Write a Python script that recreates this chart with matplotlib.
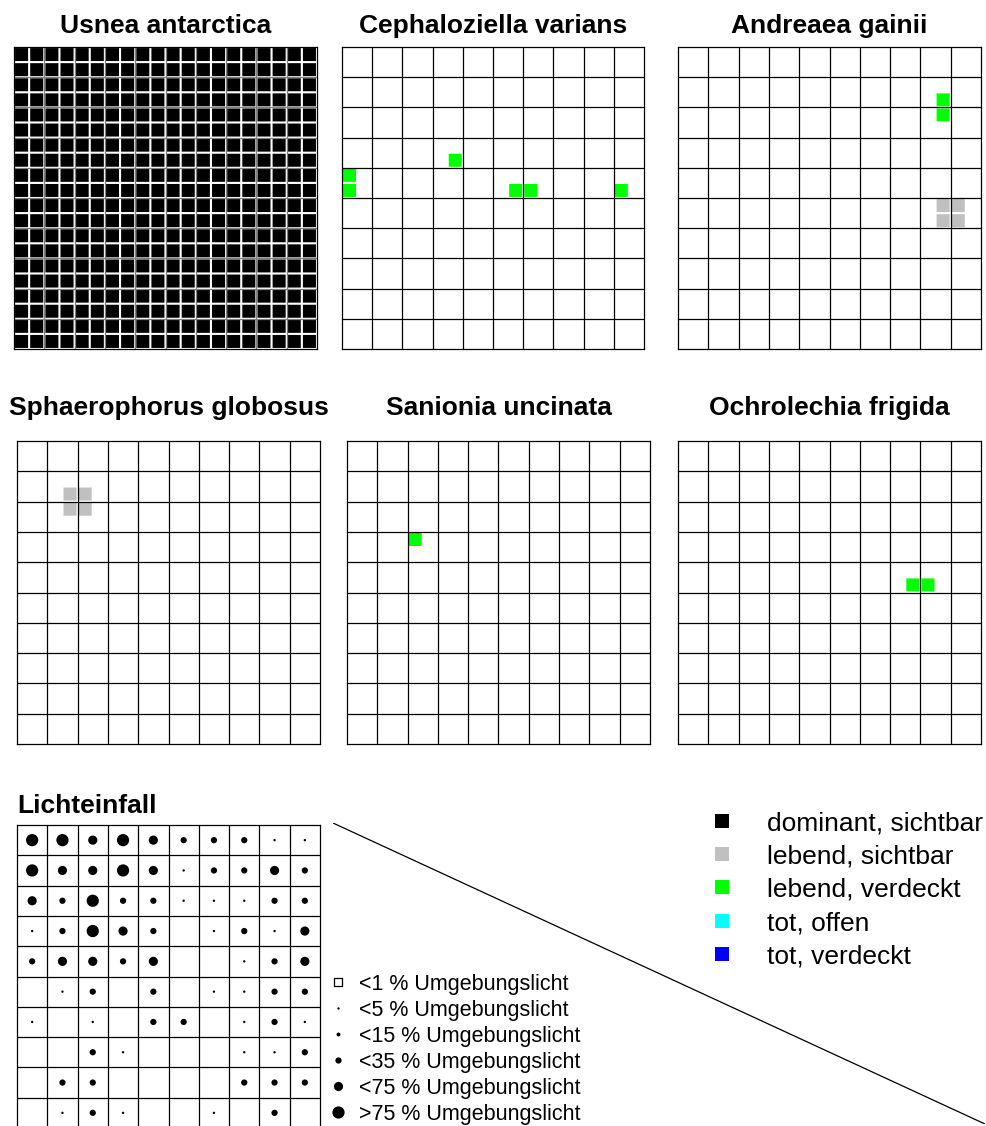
import matplotlib
matplotlib.use('Agg')
import matplotlib.pyplot as plt

plt.rcParams['font.family'] = ['Liberation Sans', 'DejaVu Sans']

W, H = 987, 1126

# status classes
status_names = ['dominant, sichtbar', 'lebend, sichtbar', 'lebend, verdeckt',
                'tot, offen', 'tot, verdeckt']
status_colors = ['#000000', '#c0c0c0', '#00ff00', '#00ffff', '#0000ff']

species = ['Usnea antarctica', 'Cephaloziella varians', 'Andreaea gainii',
           'Sphaerophorus globosus', 'Sanionia uncinata', 'Ochrolechia frigida']

# occupied quarter-cells (col, row, status) on the 20x20 sub grid, row 0 = top
usnea = [(c, r, 0) for r in range(20) for c in range(20)]   # every quarter is black
cephaloziella = [(7, 7, 2), (0, 8, 2), (0, 9, 2), (11, 9, 2), (12, 9, 2), (18, 9, 2)]
andreaea = [(17, 3, 2), (17, 4, 2), (17, 10, 1), (18, 10, 1), (17, 11, 1), (18, 11, 1)]
sphaerophorus = [(3, 3, 1), (4, 3, 1), (3, 4, 1), (4, 4, 1)]
sanionia = [(4, 6, 2)]
ochrolechia = [(15, 9, 2), (16, 9, 2)]
cells = [usnea, cephaloziella, andreaea, sphaerophorus, sanionia, ochrolechia]

# light classes per 10x10 cell, 0 = <1 %, 1 = <5 %, ... 5 = >75 %
light = [
    [5, 5, 4, 5, 4, 3, 3, 3, 1, 1],
    [5, 4, 4, 5, 4, 1, 3, 3, 4, 3],
    [4, 3, 5, 3, 3, 1, 1, 1, 3, 3],
    [1, 3, 5, 4, 3, 0, 1, 3, 1, 4],
    [3, 4, 4, 3, 4, 0, 0, 1, 3, 4],
    [0, 1, 3, 0, 3, 0, 1, 1, 3, 3],
    [1, 0, 1, 0, 3, 3, 0, 1, 3, 1],
    [0, 0, 3, 1, 0, 0, 0, 1, 1, 3],
    [0, 3, 3, 0, 0, 0, 0, 3, 3, 3],
    [0, 1, 3, 1, 0, 0, 1, 0, 3, 0],
]
light_labels = ['<1 % Umgebungslicht', '<5 % Umgebungslicht', '<15 % Umgebungslicht',
                '<35 % Umgebungslicht', '<75 % Umgebungslicht', '>75 % Umgebungslicht']

# dot diameter in points for each light class
dot_pt = [0, 1.7, 2.8, 4.5, 6.6, 8.8]

fig = plt.figure(figsize=(W / 100, H / 100), dpi=100)


def px_axes(left, top, w, h):
    return fig.add_axes([left / W, 1 - (top + h) / H, w / W, h / H])


def setup_grid(ax, n, step, lc='black'):
    ax.set_xlim(0, n)
    ax.set_ylim(n, 0)
    ax.set_xticks([])
    ax.set_yticks([])
    for i in range(1, 10):
        ax.axvline(i * step, color=lc, lw=0.9, zorder=3)
        ax.axhline(i * step, color=lc, lw=0.9, zorder=3)
    for s in ax.spines.values():
        s.set_linewidth(0.9)
        s.set_zorder(4)


# panel boxes in pixels: left, top, width, height
panel_pos = [(14, 47, 303, 302), (342, 47, 302, 302), (678, 47, 303, 302),
             (17, 441, 303, 303), (347, 441, 303, 303), (678, 441, 303, 303)]
title_base = [33, 33, 33, 415, 415, 415]

for k in range(6):
    l, t, w, h = panel_pos[k]
    ax = px_axes(l, t, w, h)
    # full panel: cell lines show grey between the white gaps
    setup_grid(ax, 20, 2, lc='#808080' if k == 0 else 'black')
    for st in range(5):
        xs = [c + 0.07 for c, r, s in cells[k] if s == st]
        ys = [r + 0.07 for c, r, s in cells[k] if s == st]
        if xs:
            ax.bar(xs, 0.86, width=0.86, bottom=ys, align='edge',
                   color=status_colors[st], linewidth=0, zorder=2, snap=False)
    fig.text((l + w / 2) / W, 1 - title_base[k] / H, species[k], ha='center',
             va='baseline', fontsize=19, fontweight='bold')

# Lichteinfall grid
lax = px_axes(17, 825, 303, 303)
setup_grid(lax, 10, 1)
xs, ys, ss = [], [], []
for r in range(10):
    for c in range(10):
        if light[r][c] > 0:
            xs.append(c + 0.5)
            ys.append(r + 0.5)
            ss.append(dot_pt[light[r][c]] ** 2)
lax.scatter(xs, ys, s=ss, c='black', linewidths=0, zorder=5, clip_on=False)
fig.text(17 / W, 1 - 813 / H, 'Lichteinfall', ha='left', va='baseline',
         fontsize=19, fontweight='bold')

# diagonal stroke
dax = px_axes(333, 823, 652, 301)
dax.plot([0, 1], [1, 0], color='black', lw=0.9, transform=dax.transAxes)
dax.axis('off')

# overlay for legends, pixel units
bg = fig.add_axes([0, 0, 1, 1])
bg.set_xlim(0, W)
bg.set_ylim(H, 0)
bg.axis('off')

for i in range(5):
    y = 821 + i * 33.2
    bg.scatter([722], [y], s=9.4 ** 2, marker='s', c=status_colors[i], linewidths=0)
    bg.text(767, y + 9.5, status_names[i], fontsize=19, va='baseline', ha='left')

for i in range(6):
    y = 982 + i * 26
    if i == 0:
        bg.scatter([338], [y], s=6.3 ** 2, marker='s', facecolors='white',
                   edgecolors='black', linewidths=0.9)
    else:
        bg.scatter([338], [y], s=dot_pt[i] ** 2, c='black', linewidths=0)
    bg.text(359, y + 7.7, light_labels[i], fontsize=15.5, va='baseline', ha='left')

fig.savefig('out.png', dpi=100)
